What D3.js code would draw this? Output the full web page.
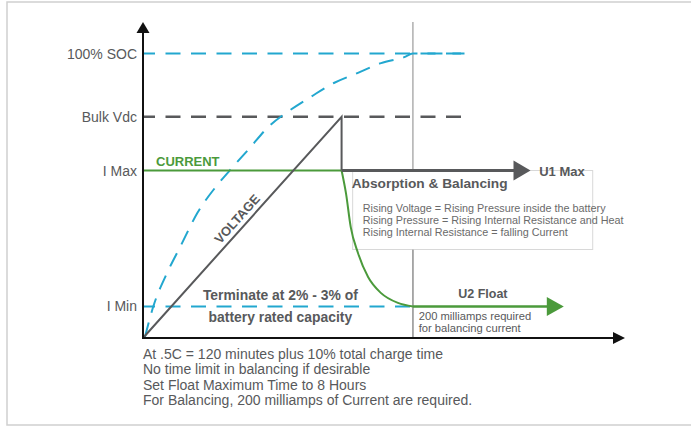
<!DOCTYPE html>
<html><head><meta charset="utf-8">
<script src="https://cdn.jsdelivr.net/npm/d3@7"></script>
<style>
html,body{margin:0;padding:0;background:#fff;}
svg{display:block;font-family:"Liberation Sans",Arial,sans-serif;}
</style></head>
<body><svg id="chart" width="691" height="428"></svg>
<script>
// ---- data ----
const levelLabels = ["I Min", "I Max", "Bulk Vdc", "100% SOC"];
const levelValues = [10, 53, 70, 90];

// State of charge (blue dashed curve)
const socX = [0.4, 2.1, 5, 7.7, 11.3, 15.4, 18.1, 22.3, 25.8, 30.6, 34.8, 39.6, 44.6, 49.4, 54.2, 56, 61.3, 66.7];
const socY = [0.3, 9.8, 20.6, 28.8, 39.6, 48.4, 53.2, 60.4, 66.5, 72.2, 76.3, 80.7, 83.9, 87, 88.9, 90, 90, 90];

// Voltage (dark gray)
const voltX = [0, 41.2, 41.2];
const voltY = [0, 70, 53];
const u1X = [41.2, 80.4];
const u1Y = [53, 53];

// Current (green)
const curX = [0, 41.2, 42.1, 43.1, 44.6, 46.7, 49.4, 52.9, 56];
const curY = [53, 53, 45.9, 35.1, 26.9, 19.3, 14.2, 11.1, 10];
const u2X = [56, 87.3];
const u2Y = [10, 10];

// reference lines
const refLevels = [90, 70, 10];
const refEnds = [66.7, 67.1, 56];
const refColors = ["blue", "gray", "blue"];
const stageX = 56; // end of absorption (vertical marker)

const boxLines = [
  "Rising Voltage = Rising Pressure inside the battery",
  "Rising Pressure = Rising Internal Resistance and Heat",
  "Rising Internal Resistance = falling Current"
];
const terminateLines = ["Terminate at 2% - 3% of", "battery rated capacity"];
const floatNote = ["200 milliamps required", "for balancing current"];
const notes = [
  "At .5C = 120 minutes plus 10% total charge time",
  "No time limit in balancing if desirable",
  "Set Float Maximum Time to 8 Hours",
  "For Balancing, 200 milliamps of Current are required."
];

// ---- drawing ----
const svg = d3.select("#chart");
const GRAY = "#58595b", GREEN = "#4b9a3b", BLUE = "#22a7cf";
const x = d3.scaleLinear().domain([0, 100]).range([143, 625]);
const y = d3.scaleLinear().domain([0, 100]).range([338, 22]);

// outer frame
svg.append("rect").attr("x", 7).attr("y", 2).attr("width", 700).attr("height", 423)
  .attr("fill", "none").attr("stroke", "#cfcfcf").attr("stroke-width", 1.5);

// vertical stage marker
svg.append("line").attr("x1", x(stageX)).attr("x2", x(stageX)).attr("y1", y(100)).attr("y2", y(0))
  .attr("stroke", "#9a9a9a").attr("stroke-width", 1.2);

// info box
svg.append("rect").attr("x", x(43.5)).attr("y", y(53)).attr("width", x(93.3) - x(43.5)).attr("height", y(28) - y(53))
  .attr("fill", "#fff").attr("stroke", "#d8d8d8").attr("stroke-width", 1);
svg.append("line").attr("x1", x(stageX)).attr("x2", x(stageX)).attr("y1", y(28)).attr("y2", y(0))
  .attr("stroke", "#9a9a9a").attr("stroke-width", 1.2);

// reference dashed lines
refLevels.forEach((lv, i) => {
  svg.append("line").attr("x1", x(0)).attr("x2", x(refEnds[i])).attr("y1", y(lv)).attr("y2", y(lv))
    .attr("stroke", refColors[i] === "blue" ? BLUE : GRAY)
    .attr("stroke-width", refColors[i] === "blue" ? 2 : 2.5)
    .attr("stroke-dasharray", "15,10.5").attr("stroke-dashoffset", 3);
});

// level labels
svg.append("g").selectAll("text").data(levelLabels).join("text")
  .attr("x", x(0) - 6).attr("y", (d, i) => y(levelValues[i]) + 5)
  .attr("text-anchor", "end").attr("font-size", 14).attr("fill", GRAY).text(d => d);

// SOC curve
const socLine = d3.line().x(d => x(d[0])).y(d => y(d[1])).curve(d3.curveMonotoneX);
svg.append("path").datum(socX.map((v, i) => [v, socY[i]])).attr("d", socLine)
  .attr("fill", "none").attr("stroke", BLUE).attr("stroke-width", 2).attr("stroke-dasharray", "15,10");

// current curve
const curPts = curX.map((v, i) => [v, curY[i]]);
svg.append("path").datum(curPts.slice(0, 2)).attr("d", d3.line().x(d => x(d[0])).y(d => y(d[1])))
  .attr("fill", "none").attr("stroke", GREEN).attr("stroke-width", 2);
svg.append("path").datum(curPts.slice(1)).attr("d", d3.line().x(d => x(d[0])).y(d => y(d[1])).curve(d3.curveMonotoneX))
  .attr("fill", "none").attr("stroke", GREEN).attr("stroke-width", 2);

// voltage
svg.append("path").datum(voltX.map((v, i) => [v, voltY[i]])).attr("d", d3.line().x(d => x(d[0])).y(d => y(d[1])))
  .attr("fill", "none").attr("stroke", GRAY).attr("stroke-width", 2).attr("stroke-linejoin", "miter");

// arrows
function arrow(x1, yv, x2, color, w, len, half) {
  svg.append("line").attr("x1", x(x1)).attr("x2", x(x2) - len + 1).attr("y1", y(yv)).attr("y2", y(yv))
    .attr("stroke", color).attr("stroke-width", w);
  const tx = x(x2), ty = y(yv);
  svg.append("path").attr("d", `M${tx},${ty}L${tx - len},${ty - half}L${tx - len},${ty + half}Z`).attr("fill", color);
}
arrow(u1X[0], u1Y[0], u1X[1], GRAY, 3, 17, 10);
arrow(u2X[0], u2Y[0], u2X[1], GREEN, 2.5, 17, 9.5);

// axes
svg.append("line").attr("x1", x(0)).attr("x2", x(0)).attr("y1", y(0) + 1).attr("y2", y(100) + 10)
  .attr("stroke", "#111").attr("stroke-width", 2);
svg.append("path").attr("d", `M${x(0)},${y(100)}L${x(0) - 6.5},${y(100) + 11}L${x(0) + 6.5},${y(100) + 11}Z`).attr("fill", "#111");
svg.append("line").attr("x1", x(0) - 1).attr("x2", x(100) - 10).attr("y1", y(0)).attr("y2", y(0))
  .attr("stroke", "#111").attr("stroke-width", 2);
svg.append("path").attr("d", `M${x(100)},${y(0)}L${x(100) - 12},${y(0) - 6}L${x(100) - 12},${y(0) + 6}Z`).attr("fill", "#111");

// labels
svg.append("text").attr("x", x(2.7)).attr("y", y(53) - 5).attr("font-size", 13).attr("font-weight", "bold")
  .attr("fill", GREEN).text("CURRENT");

const ang = Math.atan2(y(70) - y(0), x(41.2) - x(0)) * 180 / Math.PI;
const vx = x(0) + (x(41.2) - x(0)) * 0.51, vy = y(0) + (y(70) - y(0)) * 0.51;
svg.append("text").attr("transform", `translate(${vx},${vy}) rotate(${ang}) translate(0,-5)`)
  .attr("text-anchor", "middle").attr("font-size", 13).attr("font-weight", "bold").attr("fill", GRAY).text("VOLTAGE");

svg.append("text").attr("x", x(43.3)).attr("y", y(53) + 17).attr("font-size", 13.7).attr("font-weight", "bold")
  .attr("fill", GRAY).text("Absorption & Balancing");
svg.append("text").attr("x", x(82.2)).attr("y", y(53) + 5).attr("font-size", 13).attr("font-weight", "bold")
  .attr("fill", GRAY).text("U1 Max");

svg.append("g").selectAll("text").data(boxLines).join("text")
  .attr("x", x(45.6)).attr("y", (d, i) => 212 + i * 12).attr("font-size", 10.8).attr("fill", "#6a6a6a").text(d => d);

svg.append("g").selectAll("text").data(terminateLines).join("text")
  .attr("x", x(28.5)).attr("y", (d, i) => 300 + i * 22).attr("text-anchor", "middle")
  .attr("font-size", 13.9).attr("font-weight", "bold").attr("fill", GRAY).text(d => d);

svg.append("text").attr("x", x(65.4)).attr("y", y(10) - 8).attr("font-size", 12.5).attr("font-weight", "bold")
  .attr("fill", GRAY).text("U2 Float");
svg.append("g").selectAll("text").data(floatNote).join("text")
  .attr("x", x(57.2)).attr("y", (d, i) => 320 + i * 12).attr("font-size", 11.2).attr("fill", GRAY).text(d => d);

svg.append("g").selectAll("text").data(notes).join("text")
  .attr("x", x(0)).attr("y", (d, i) => 359 + i * 15.4).attr("font-size", 14).attr("fill", GRAY).text(d => d);
</script></body></html>
